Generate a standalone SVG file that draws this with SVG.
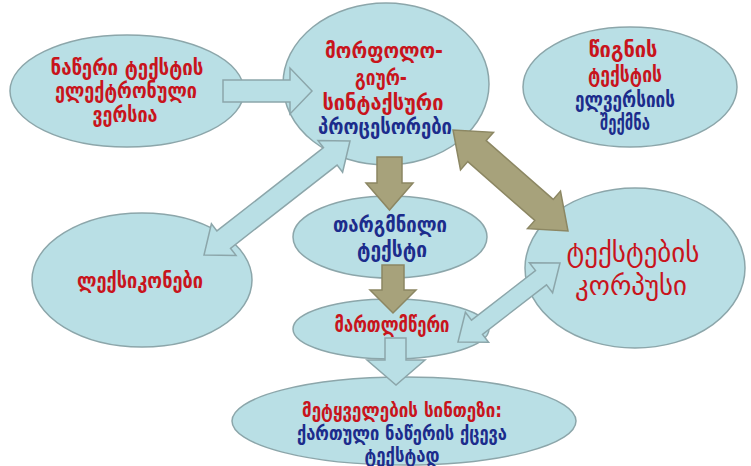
<svg xmlns="http://www.w3.org/2000/svg" width="751" height="466" viewBox="0 0 751 466">
<style>
.node{fill:#b9dfe5;stroke:#8ca6aa;stroke-width:1.5}
.ab{fill:#b9dfe5;stroke:#8ca6aa;stroke-width:1.5;stroke-linejoin:miter}
.ao{fill:#a7a27b;stroke:#8c8763;stroke-width:1.5;stroke-linejoin:miter}
text{font-family:"DejaVu Sans","Noto Sans",sans-serif;font-weight:bold;text-anchor:middle}
.r{fill:#c8141c}
.b{fill:#1c2c8c}
</style>
<rect width="751" height="466" fill="#ffffff"/>
<g id="n-electronic">
<ellipse class="node" cx="127" cy="91" rx="117" ry="56"/>
<text class="r" font-size="21" lengthAdjust="spacingAndGlyphs" textLength="153" x="127" y="75">ნაწერი ტექსტის</text>
<text class="r" font-size="21" lengthAdjust="spacingAndGlyphs" textLength="142" x="126" y="98">ელექტრონული</text>
<text class="r" font-size="21" lengthAdjust="spacingAndGlyphs" textLength="65" x="125" y="122">ვერსია</text>
</g>
<g id="n-processors">
<ellipse class="node" cx="386" cy="84" rx="103" ry="81"/>
<text class="r" font-size="21" lengthAdjust="spacingAndGlyphs" textLength="118" x="384" y="58">მორფოლო-</text>
<text class="r" font-size="21" lengthAdjust="spacingAndGlyphs" textLength="52" x="381" y="85">გიურ-</text>
<text class="r" font-size="21" lengthAdjust="spacingAndGlyphs" textLength="121" x="383" y="110">სინტაქსური</text>
<text class="b" font-size="21" lengthAdjust="spacingAndGlyphs" textLength="134" x="385" y="134">პროცესორები</text>
</g>
<g id="n-ebook">
<ellipse class="node" cx="630" cy="87" rx="107" ry="60"/>
<text class="r" font-size="21" lengthAdjust="spacingAndGlyphs" textLength="69" x="623" y="57">წიგნის</text>
<text class="r" font-size="21" lengthAdjust="spacingAndGlyphs" textLength="74" x="625" y="82">ტექსტის</text>
<text class="b" font-size="21" lengthAdjust="spacingAndGlyphs" textLength="100" x="625" y="107">ელვერსიის</text>
<text class="b" font-size="21" lengthAdjust="spacingAndGlyphs" textLength="50" x="625" y="130">შექმნა</text>
</g>
<g id="n-lexicons">
<ellipse class="node" cx="142" cy="280" rx="110" ry="67"/>
<text class="r" font-size="21" lengthAdjust="spacingAndGlyphs" textLength="126" x="140" y="288">ლექსიკონები</text>
</g>
<g id="n-translated">
<ellipse class="node" cx="390" cy="237" rx="97" ry="41"/>
<text class="b" font-size="22" lengthAdjust="spacingAndGlyphs" textLength="114" x="390" y="232">თარგმნილი</text>
<text class="b" font-size="22" lengthAdjust="spacingAndGlyphs" textLength="70" x="392" y="257">ტექსტი</text>
</g>
<g id="n-corpus">
<ellipse class="node" cx="635" cy="268" rx="110" ry="80"/>
<text class="r" font-size="27" style="font-weight:normal" lengthAdjust="spacingAndGlyphs" textLength="133" x="633" y="262">ტექსტების</text>
<text class="r" font-size="27" style="font-weight:normal" lengthAdjust="spacingAndGlyphs" textLength="112" x="631" y="295">კორპუსი</text>
</g>
<g id="n-spelling">
<ellipse class="node" cx="391" cy="329" rx="98" ry="30"/>
<text class="r" font-size="21" lengthAdjust="spacingAndGlyphs" textLength="115" x="392" y="332">მართლმწერი</text>
</g>
<g id="n-speech">
<ellipse class="node" cx="404" cy="421" rx="172" ry="44"/>
<text class="r" font-size="19" lengthAdjust="spacingAndGlyphs" textLength="200" x="402" y="417">მეტყველების სინთეზი:</text>
<text class="b" font-size="19" lengthAdjust="spacingAndGlyphs" textLength="210" x="402" y="440">ქართული ნაწერის ქცევა</text>
<text class="b" font-size="19" lengthAdjust="spacingAndGlyphs" textLength="75" x="402" y="462">ტექსტად</text>
</g>
<g id="connectors">
<polygon class="ab" points="223,80 290,80 290,68 312,91 290,114 290,102 223,102"/>
<polygon class="ab" points="204,255 236.0,255.4 230.5,248.3 337.1,165.1 342.6,172.2 350,141 318.0,140.6 323.5,147.7 216.9,230.9 211.4,223.8"/>
<polygon class="ao" points="453,130 460.5,169.9 467.8,161.6 534.8,220.4 527.5,228.7 568,231 560.5,191.1 553.2,199.4 486.2,140.6 493.5,132.3"/>
<polygon class="ab" points="458,342 488.6,342.3 482.5,334.4 546.5,284.8 552.6,292.7 560,263 529.4,262.7 535.5,270.6 471.5,320.2 465.4,312.3"/>
<polygon class="ao" points="377,157 402,157 402,183 413,183 389.5,210 366,183 377,183"/>
<polygon class="ao" points="382,265 404,265 404,290 416,290 393,313 370,290 382,290"/>
<polygon class="ab" points="385,338 406,338 406,360 425,360 396,385 367,360 385,360"/>
</g>
</svg>
